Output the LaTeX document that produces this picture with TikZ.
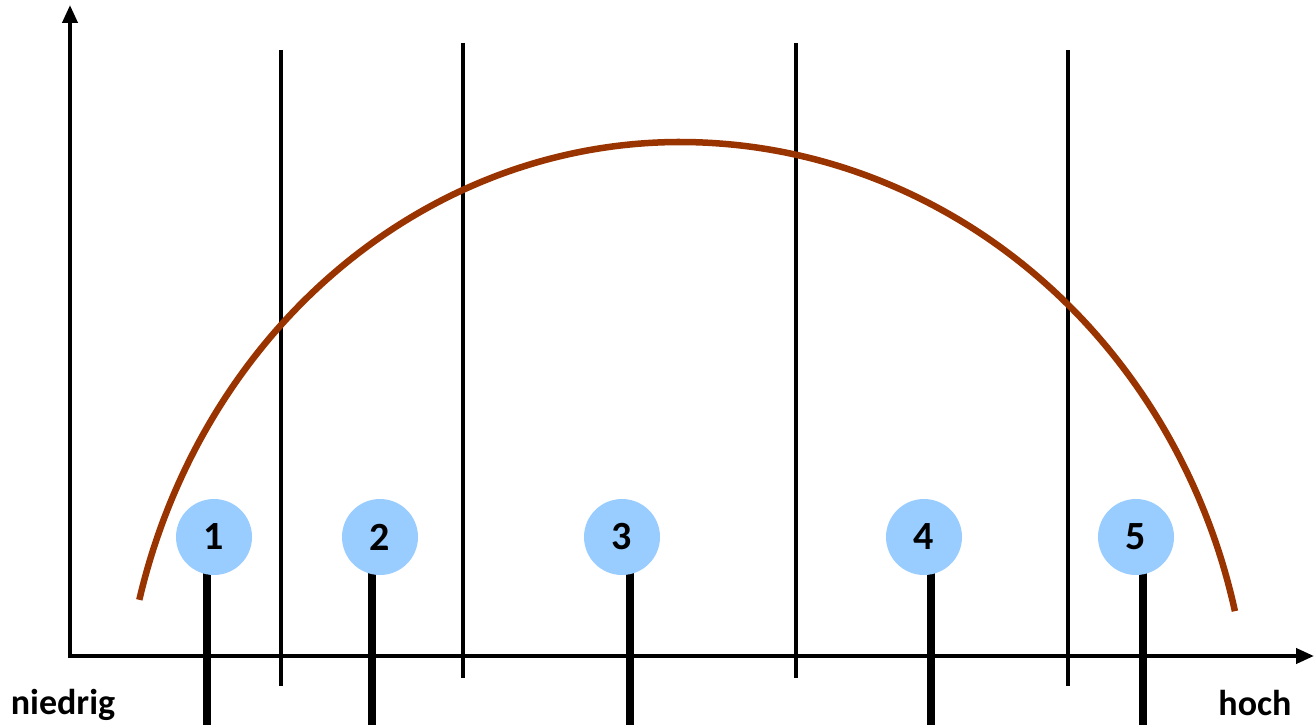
\documentclass[tikz,border=0pt]{standalone}
\usepackage{fontspec}
\setmainfont{Carlito}
\usetikzlibrary{arrows.meta}
\definecolor{curvec}{HTML}{993300}
\definecolor{circc}{HTML}{99CCFF}
\tikzset{
  axis/.style={line width=4pt,-{Triangle[length=18pt,width=15pt]}},
  divider/.style={line width=3.5pt},
  stem/.style={line width=7.5pt},
  marker/.style={circle,fill=circc,minimum size=76pt,inner sep=0pt,font=\fontsize{40}{44}\selectfont\bfseries},
  lbl/.style={font=\fontsize{36}{40}\selectfont\bfseries,inner sep=0pt}
}
\begin{document}
\begin{tikzpicture}[x=1pt,y=-1pt]
\useasboundingbox (0,0) rectangle (1314,725);
\coordinate (O) at (70,656);
\coordinate (Ytop) at (70,5);
\coordinate (Xend) at (1314,656);
\draw[axis] ([yshift=2pt]O) -- (Ytop);
\draw[axis] ([xshift=-2pt]O) -- (Xend);
% dividers
\foreach \n/\x/\a/\b in {d1/281/50/686, d2/463/43/678, d3/796/43/678, d4/1068/50/686}{
  \coordinate (\n t) at (\x,\a);
  \coordinate (\n b) at (\x,\b);
  \draw[divider] (\n t) -- (\n b);
}
% curve
\draw[curvec,line width=6.5pt]
  plot[domain=165.7:90,samples=80,smooth] ({680+558*cos(\x)},{750-608*sin(\x)})
  -- plot[domain=90:13.2,samples=80,smooth] ({680+570*cos(\x)},{750-608*sin(\x)});
% markers
\foreach \i/\cx/\sx in {1/214/207, 2/380/372, 3/622/630, 4/924/931, 5/1136/1143}{
  \coordinate (s\i b) at (\sx,725);
  \coordinate (s\i t) at (\sx,570);
  \draw[stem] (s\i t) -- (s\i b);
  \node[marker] (m\i) at (\cx,537) {\i};
}
\node[lbl] (low) at (63,705) {niedrig};
\node[lbl] (high) at (1255,703) {hoch};
\end{tikzpicture}
\end{document}
